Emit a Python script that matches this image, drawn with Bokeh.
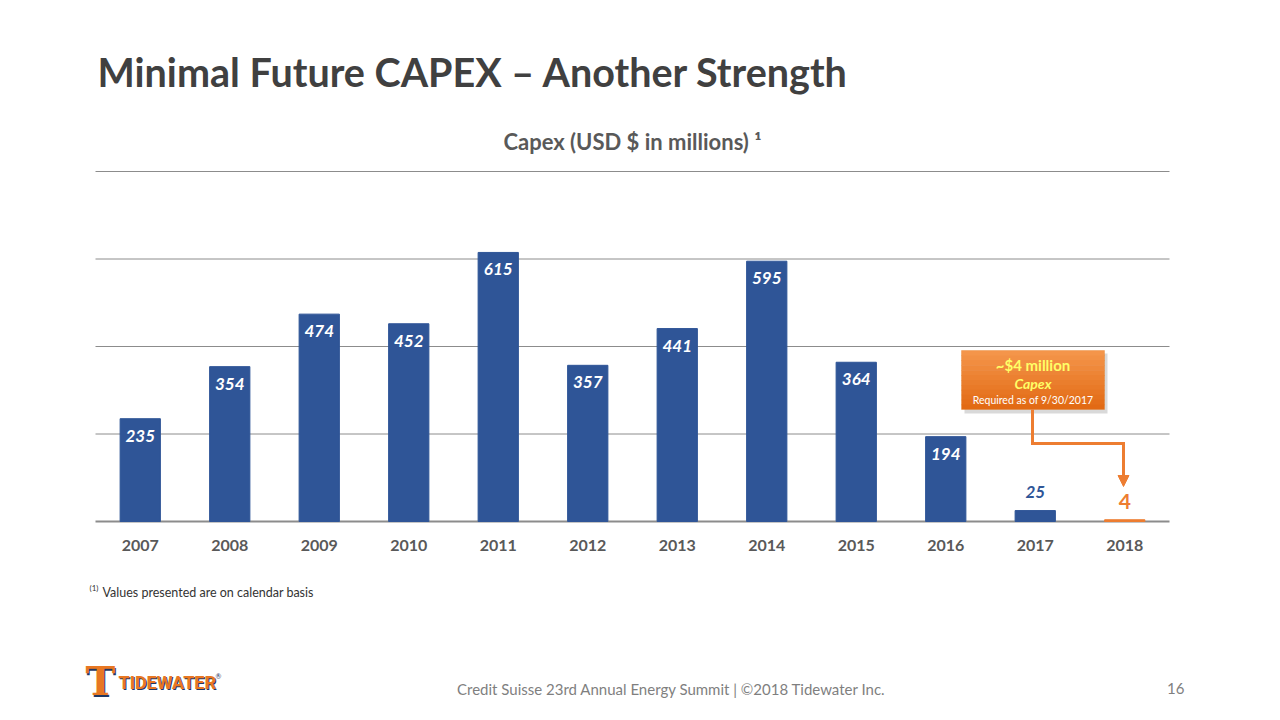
from bokeh.plotting import figure
from bokeh.models import (ColumnDataSource, Range1d, BoxAnnotation, Arrow, NormalHead,
                          Label)
from bokeh.core.properties import value
from bokeh.embed import file_html
from bokeh.resources import INLINE

# ---------------- data ----------------
years = ["2007", "2008", "2009", "2010", "2011", "2012",
         "2013", "2014", "2015", "2016", "2017", "2018"]
capex = [235, 354, 474, 452, 615, 357, 441, 595, 364, 194, 25, 4]
grid_values = [200, 400, 600, 800]
baseline_value = [0]

title_text = "Minimal Future CAPEX – Another Strength"
subtitle_text = "Capex (USD $ in millions) ¹"
footnote_text = "Values presented are on calendar basis"
footer_text = "Credit Suisse 23rd Annual Energy Summit  |  ©2018 Tidewater Inc."
page_number = "16"
callout_lines = ["~$4 million", "Capex", "Required as of 9/30/2017"]

# ---------------- styles ----------------
BLUE = "#2F5597"
ORANGE = "#ED7D31"
GRID = "#8C8C8C"
bar_colors = [BLUE] * 11 + [ORANGE]
FONT = "Lato"

W, H = 1264, 704
# chart area in page pixels
F_LEFT, F_RIGHT, F_TOP, F_BOTTOM = 95, 1169, 171, 521
VAL_TOP = 800
n = len(years)
ppu = (F_BOTTOM - F_TOP) / VAL_TOP             # pixels per USD million
cat_w = (F_RIGHT - F_LEFT) / n                  # pixels per category
xpos = list(range(n))                           # category index of each year

# The whole canvas is the frame: default ranges are page pixels (y downwards),
# extra ranges carry the chart's category and value scales.
p = figure(width=W, height=H, output_backend="svg", toolbar_location=None,
           x_range=Range1d(0, W), y_range=Range1d(H, 0),
           x_axis_location=None, y_axis_location=None,
           min_border=0, min_border_left=0, min_border_right=0,
           min_border_top=0, min_border_bottom=0)
p.extra_x_ranges = {"cat": Range1d(-0.5 - F_LEFT / cat_w,
                                   n - 0.5 + (W - F_RIGHT) / cat_w)}
p.extra_y_ranges = {"val": Range1d(-(H - F_BOTTOM) / ppu, VAL_TOP + F_TOP / ppu)}
p.outline_line_color = None
p.xgrid.visible = False
p.ygrid.visible = False
p.background_fill_color = "white"
p.border_fill_color = "white"

CAT = dict(x_range_name="cat", y_range_name="val")

# gridlines and baseline across the category span
p.segment(x0=[-0.5] * len(grid_values), x1=[n - 0.5] * len(grid_values),
          y0=grid_values, y1=grid_values, line_color=GRID, line_width=1, **CAT)
p.segment(x0=[-0.5], x1=[n - 0.5], y0=baseline_value, y1=baseline_value,
          line_color=GRID, line_width=2, **CAT)

src = ColumnDataSource(dict(x=xpos, year=years, capex=capex, color=bar_colors))
p.vbar(x="x", top="capex", width=0.45, color="color", source=src, **CAT)

# category labels under the baseline
p.text(x="x", y=0, text="year", source=src, text_font=value(FONT),
       text_font_style="bold", text_font_size="16px", text_color="#595959",
       text_align="center", text_baseline="middle", y_offset=24, **CAT)

# value labels
inside = [i for i, v in enumerate(capex) if v >= 100]
in_src = ColumnDataSource(dict(x=[xpos[i] for i in inside],
                               capex=[capex[i] for i in inside],
                               lab=[str(capex[i]) for i in inside]))
p.text(x="x", y="capex", text="lab", source=in_src,
       text_font=value(FONT), text_font_style="bold italic",
       text_font_size="17px", text_color="white",
       text_align="center", text_baseline="top", y_offset=11, **CAT)

s17 = ColumnDataSource(dict(x=[xpos[10]], capex=[capex[10]], lab=[str(capex[10])]))
p.text(x="x", y="capex", text="lab", source=s17,
       text_font=value(FONT), text_font_style="bold italic",
       text_font_size="17px", text_color=BLUE,
       text_align="center", text_baseline="bottom", y_offset=-13, **CAT)
s18 = ColumnDataSource(dict(x=[xpos[11]], capex=[capex[11]], lab=[str(capex[11])]))
p.text(x="x", y="capex", text="lab", source=s18,
       text_font=value(FONT), text_font_style="bold",
       text_font_size="21px", text_color=ORANGE,
       text_align="center", text_baseline="bottom", y_offset=-11, **CAT)


# ---------------- page texts (page pixel coordinates) ----------------
def ftext(x, y, text, size, color, style="normal", align="left",
          baseline="middle", font=FONT):
    p.text(x=[x], y=[y], text=[text], text_font=value(font),
           text_font_size=size, text_color=color, text_font_style=style,
           text_align=align, text_baseline=baseline)


ftext(97, 71, title_text, "39.5px", "#404040", "bold")
ftext(632, 141, subtitle_text, "22px", "#595959", "bold", "center")
ftext(89, 587, "(1)", "8px", "#333333")
ftext(102, 592, footnote_text, "12.5px", "#333333")
ftext(675, 688, footer_text, "15px", "#7F7F7F", "normal", "center")
ftext(1184, 688, page_number, "15px", "#7F7F7F", "normal", "right")

# logo
ftext(101, 682, "T", "40px", "#1F3864", "bold", "center", font="DejaVu Serif")
ftext(100, 680, "T", "40px", "#E87722", "bold", "center", font="DejaVu Serif")
ftext(119, 683, "TIDEWATER", "18px", "#1F3864", "bold", font="Roboto")
ftext(118, 682, "TIDEWATER", "18px", "#E87722", "bold", font="Roboto")
ftext(215, 675, "®", "7px", "#1F3864")


# ---------------- callout ----------------
def box(l, t, r, b, **kw):
    p.add_layout(BoxAnnotation(left=l, right=r, top=t, bottom=b, **kw))


def label(x, y, text, size, color, style="normal"):
    p.add_layout(Label(x=x, y=y, text=text, text_font=FONT, text_font_size=size,
                       text_color=color, text_font_style=style,
                       text_align="center", text_baseline="middle"))


BX0, BY0, BX1, BY1 = 961, 350, 1104, 409
box(BX0 + 3, BY0 + 3, BX1 + 3, BY1 + 4, fill_color="#808080", fill_alpha=0.3,
    line_color=None)
c_top, c_bot = (0xF4, 0x95, 0x4A), (0xE2, 0x6A, 0x14)
N = 12
for k in range(N):
    t = k / (N - 1)
    col = "#%02X%02X%02X" % tuple(round(a + (b - a) * t) for a, b in zip(c_top, c_bot))
    y_a = BY0 + (BY1 - BY0) * k / N
    y_b = BY0 + (BY1 - BY0) * (k + 1) / N
    box(BX0, y_a, BX1, min(y_b + 0.6, BY1), fill_color=col, fill_alpha=1,
        line_color=None)
box(BX0, BY0, BX1, BY1, fill_alpha=0, line_color="#E0700F", line_width=1)
label(1032.5, 364, callout_lines[0], "15px", "#FFFF66", "bold")
label(1032.5, 383, callout_lines[1], "14px", "#FFFF66", "bold italic")
label(1032.5, 399, callout_lines[2], "10.5px", "white", "normal")

for (x0, y0, x1, y1) in [(1032, 409, 1032, 443), (1030.5, 443, 1123, 443)]:
    p.add_layout(Arrow(x_start=x0, y_start=y0, x_end=x1, y_end=y1, end=None,
                       line_color=ORANGE, line_width=3))
p.add_layout(Arrow(x_start=1123, y_start=441.5, x_end=1123, y_end=486,
                   end=NormalHead(size=11, fill_color=ORANGE, line_color=ORANGE),
                   line_color=ORANGE, line_width=3))

open("out.html", "w").write(file_html(p, INLINE))
